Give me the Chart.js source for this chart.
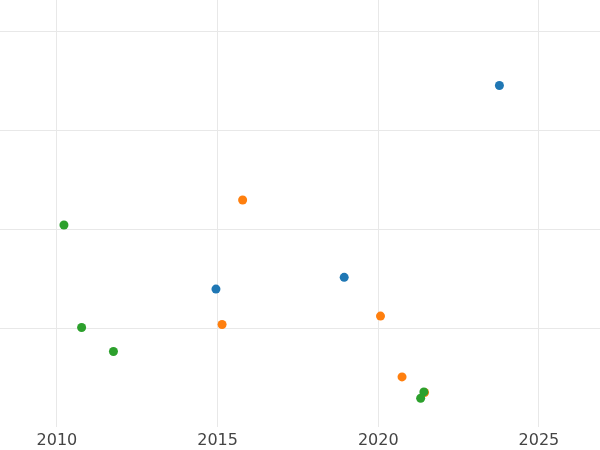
<!DOCTYPE html>
<html>
<head>
<meta charset="utf-8">
<script src="https://cdn.jsdelivr.net/npm/chart.js@4"></script>
<style>
  html, body { margin: 0; padding: 0; background: #fff; }
  #wrap { width: 600px; height: 450px; }
</style>
</head>
<body>
<div id="wrap"><canvas id="chartCanvas"></canvas></div>
<script>
// x = year, y = value (the y axis has no labels in the reference)
var blueX = [2023.77, 2014.95, 2018.94];
var blueY = [3.455, 1.395, 1.514];

var orangeX = [2015.78, 2015.14, 2020.07, 2020.74, 2021.44];
var orangeY = [2.297, 1.037, 1.122, 0.507, 0.349];

var greenX = [2010.22, 2010.77, 2011.76, 2021.42, 2021.32];
var greenY = [2.044, 1.007, 0.764, 0.355, 0.291];

var xTicks = [2010, 2015, 2020, 2025];
var yTicks = [1, 2, 3, 4];

function toPoints(xs, ys) {
  return xs.map(function(x, i) { return { x: x, y: ys[i] }; });
}

function makeSet(label, xs, ys, color, order) {
  return {
    label: label,
    data: toPoints(xs, ys),
    backgroundColor: color,
    borderColor: color,
    borderWidth: 0,
    pointRadius: 4.5,
    pointHoverRadius: 4.5,
    order: order // lower order is drawn on top
  };
}

var ctx = document.getElementById('chartCanvas').getContext('2d');

new Chart(ctx, {
  type: 'scatter',
  data: {
    datasets: [
      makeSet('A', blueX, blueY, '#1f77b4', 3),
      makeSet('B', orangeX, orangeY, '#ff7f0e', 2),
      makeSet('C', greenX, greenY, '#2ca02c', 1)
    ]
  },
  options: {
    responsive: true,
    maintainAspectRatio: false,
    animation: false,
    layout: { padding: 0, autoPadding: false },
    plugins: {
      legend: { display: false },
      tooltip: { enabled: false }
    },
    scales: {
      x: {
        type: 'linear',
        min: 2008.23,
        max: 2026.9,
        afterBuildTicks: function(axis) {
          axis.ticks = xTicks.map(function(v) { return { value: v }; });
        },
        afterFit: function(axis) { axis.height = 23; },
        grid: { color: '#e8e8e8', lineWidth: 1, drawTicks: false },
        border: { display: false },
        ticks: {
          padding: 4,
          color: '#444444',
          font: { family: 'DejaVu Sans', size: 16 },
          callback: function(v) { return String(v); }
        }
      },
      y: {
        type: 'linear',
        min: 0,
        max: 4.32,
        afterBuildTicks: function(axis) {
          axis.ticks = yTicks.map(function(v) { return { value: v }; });
        },
        afterFit: function(axis) { axis.width = 0; },
        grid: { color: '#e8e8e8', lineWidth: 1, drawTicks: false },
        border: { display: false },
        ticks: { display: false }
      }
    }
  }
});
</script>
</body>
</html>
